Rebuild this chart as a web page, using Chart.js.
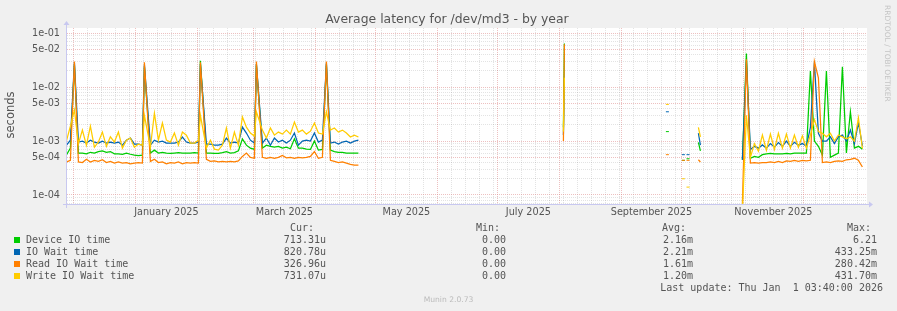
<!DOCTYPE html>
<html lang="en">
<head>
  <meta charset="UTF-8">
  <title>Average latency for /dev/md3 - by year</title>
  <script src="https://cdn.jsdelivr.net/npm/chart.js@4"></script>
  <style>
    body { margin: 0; background: #f0f0f0; }
    .graph { position: relative; width: 897px; height: 311px; overflow: hidden; font-family: 'DejaVu Sans', sans-serif; color: #555; }
    .graph canvas { position: absolute; left: 0; top: 0; }
    .t { position: absolute; white-space: pre; line-height: 1; }
    .title { left: 0; width: 894px; top: 13px; text-align: center; font-size: 12.4px; }
    .ylabel { left: 11px; top: 115px; font-size: 11.5px; transform: translate(-50%, -50%) rotate(-90deg); }
    .mono { font-family: 'DejaVu Sans Mono', monospace; font-size: 10px; color: #555; }
    .sq { position: absolute; width: 6px; height: 6px; }
    .stamp { left: 883px; top: 5px; font-size: 7.5px; color: #c4c4c4; writing-mode: vertical-rl; }
    .munin { left: 0; width: 897px; text-align: center; top: 296px; font-size: 7.6px; color: #bbb; }
  </style>
</head>
<body>
  <div class="graph" id="graph">
    <canvas id="latencyChart" width="897" height="311"></canvas>
    <div class="t title">Average latency for /dev/md3 - by year</div>
    <div class="t ylabel">seconds</div>
    <div class="t stamp">RRDTOOL / TOBI OETIKER</div>
    <div class="t munin">Munin 2.0.73</div>
  </div>
  <script>
    // --- 데이터 (days since 1 Dec 2024, null = no data) ---
    const seriesLabels = ['Device IO time', 'IO Wait time', 'Read IO Wait time', 'Write IO Wait time'];
    const seriesColors = ['#00cc00', '#0066b3', '#ff8000', '#ffcc00'];
    const curValues = ['713.31u', '820.78u', '326.96u', '731.07u'];
    const minValues = ['0.00', '0.00', '0.00', '0.00'];
    const avgValues = ['2.16m', '2.21m', '1.61m', '1.20m'];
    const maxValues = ['6.21', '433.25m', '280.42m', '431.70m'];
    const lastUpdate = 'Last update: Thu Jan  1 03:40:00 2026';

    const monthLabels = ['January 2025', 'March 2025', 'May 2025', 'July 2025', 'September 2025', 'November 2025'];
    const labelMonths = [1, 3, 5, 7, 9, 11]; // months after Dec 2024

    const days = [
      -3.5, -1.5, 0.5, 2.5, 4.5, 6.5, 8.5, 10.5, 12.5, 14.5, 16.5, 18.5, 20.5, 22.5, 24.5, 26.5, 28.5, 30.5, 32.5, 34.5,
      35.5,
      38.5, 40.5, 42.5, 44.5, 46.5, 48.5, 50.5, 52.5, 54.5, 56.5, 58.5, 60.5, 62.5,
      63.5,
      66.5, 68.5, 70.5, 72.5, 74.5, 76.5, 78.5, 80.5, 82.5, 84.5, 86.5, 88.5, 90.5,
      91.5,
      94.5, 96.5, 98.5, 100.5, 102.5, 104.5, 106.5, 108.5, 110.5, 112.5, 114.5, 116.5, 118.5, 120.5, 122.5, 124.5,
      126.5, 128.5, 130.5, 132.5, 134.5, 136.5, 138.5, 140.5, 142.5,
      200, 245, 245.5, 270, 297, 301, 305, 306, 307.3, 310, 312.5, 313.5, 320,
      334.5, 336.5, 338.5, 340.5, 342.5, 344.5, 346.5, 348.5, 350.5, 352.5, 354.5, 356.5, 358.5, 360.5, 362.5, 364.5,
      366.5, 368.5, 370.5, 372.5, 374.5, 376.5, 378.5, 380.5, 382.5, 384.5, 386.5, 388.5, 390.5, 392.5, 394.5
    ];

    const deviceIO = [
      5.5e-4, 7.4e-4, 2.6e-2, 6.0e-4, 6.0e-4, 5.8e-4, 6.2e-4, 6.0e-4, 6.4e-4, 6.6e-4, 6.2e-4, 6.4e-4, 5.8e-4, 5.8e-4, 5.7e-4, 6.0e-4, 5.7e-4, 5.5e-4, 5.4e-4, 5.5e-4,
      2.4e-2,
      6.0e-4, 6.8e-4, 6.0e-4, 6.2e-4, 6.0e-4, 5.9e-4, 6.0e-4, 6.1e-4, 6.0e-4, 6.0e-4, 6.0e-4, 6.1e-4, 6.0e-4,
      3.1e-2,
      6.0e-4, 6.0e-4, 5.9e-4, 5.9e-4, 6.1e-4, 6.4e-4, 6.0e-4, 6.1e-4, 6.6e-4, 1.1e-3, 8.4e-4, 7.4e-4, 7.0e-4,
      2.6e-2,
      7.4e-4, 8.4e-4, 8.0e-4, 7.7e-4, 8.0e-4, 7.4e-4, 7.7e-4, 7.2e-4, 1.1e-3, 7.4e-4, 7.4e-4, 7.1e-4, 7.0e-4, 1.0e-3, 6.8e-4, 7.0e-4,
      2.6e-2, 6.8e-4, 6.4e-4, 6.2e-4, 6.2e-4, 6.0e-4, 6.0e-4, 6.0e-4, 6.0e-4,
      null, 1.8e-3, 6.5e-2, null, 1.5e-3, null, 4.4e-4, null, 4.7e-4, null, 9.5e-4, 6.6e-4, null,
      4.5e-4, 4.2e-2, 4.8e-4, 5.2e-4, 5.0e-4, 5.6e-4, 5.8e-4, 5.9e-4, 5.8e-4, 5.8e-4, 5.8e-4, 5.9e-4, 5.8e-4, 6.0e-4, 6.0e-4, 6.0e-4,
      6.0e-4, 2.0e-2, 1.0e-3, 8.0e-4, 5.5e-4, 2.0e-2, 5.0e-4, 5.5e-4, 6.0e-4, 2.4e-2, 6.0e-4, 3.5e-3, 7.4e-4, 8.0e-4, 7.1e-4
    ];

    const ioWait = [
      8.4e-4, 1.04e-3, 2.9e-2, 9.6e-4, 1.0e-3, 9.2e-4, 1.04e-3, 9.6e-4, 9.2e-4, 1.0e-3, 9.2e-4, 9.6e-4, 9.2e-4, 9.6e-4, 8.4e-4, 1.04e-3, 1.14e-3, 8.8e-4, 8.8e-4, 8.4e-4,
      2.6e-2,
      8.4e-4, 1.04e-3, 9.6e-4, 1.0e-3, 9.2e-4, 9.2e-4, 9.2e-4, 9.6e-4, 1.19e-3, 9.6e-4, 9.2e-4, 9.2e-4, 9.6e-4,
      2.7e-2,
      8.8e-4, 8.8e-4, 8.4e-4, 8.4e-4, 8.8e-4, 1.14e-3, 9.2e-4, 9.6e-4, 9.2e-4, 1.82e-3, 1.41e-3, 1.04e-3, 9.2e-4,
      2.7e-2,
      9.2e-4, 1.14e-3, 8.4e-4, 1.14e-3, 9.6e-4, 1.04e-3, 9.2e-4, 1.04e-3, 1.41e-3, 8.4e-4, 1.0e-3, 1.04e-3, 1.0e-3, 1.41e-3, 9.6e-4, 1.04e-3,
      2.8e-2, 9.2e-4, 9.6e-4, 8.8e-4, 9.6e-4, 1.0e-3, 9.2e-4, 1.0e-3, 1.04e-3,
      null, 1.3e-3, 1.4e-2, null, 3.5e-3, null, 5.6e-4, null, 5.6e-4, null, 1.4e-3, 8.4e-4, null,
      4.5e-4, 3.0e-2, 7.0e-4, 8.0e-4, 7.4e-4, 8.5e-4, 7.4e-4, 9.0e-4, 7.7e-4, 9.4e-4, 8.0e-4, 1.0e-3, 8.0e-4, 9.5e-4, 8.4e-4, 9.0e-4,
      8.0e-4, 1.8e-3, 2.9e-2, 1.4e-3, 1.0e-3, 1.0e-3, 1.2e-3, 9.0e-4, 1.2e-3, 1.3e-3, 1.0e-3, 1.6e-3, 9.0e-4, 2.2e-3, 8.2e-4
    ];

    const readWait = [
      4.1e-4, 4.4e-4, 3.0e-2, 4.1e-4, 4.0e-4, 4.6e-4, 4.1e-4, 4.4e-4, 4.2e-4, 4.5e-4, 4.0e-4, 4.2e-4, 3.9e-4, 4.1e-4, 3.9e-4, 4.0e-4, 3.8e-4, 3.9e-4, 4.0e-4, 3.9e-4,
      2.9e-2,
      4.2e-4, 4.6e-4, 4.0e-4, 4.1e-4, 3.8e-4, 4.0e-4, 3.9e-4, 4.1e-4, 3.8e-4, 4.0e-4, 3.9e-4, 4.0e-4, 3.9e-4,
      2.9e-2,
      4.6e-4, 4.2e-4, 4.3e-4, 4.1e-4, 4.2e-4, 4.1e-4, 4.2e-4, 4.1e-4, 4.3e-4, 5.2e-4, 6.0e-4, 5.0e-4, 4.8e-4,
      3.0e-2,
      5.0e-4, 4.8e-4, 5.0e-4, 4.8e-4, 5.0e-4, 5.4e-4, 4.9e-4, 5.0e-4, 4.8e-4, 5.0e-4, 4.9e-4, 5.0e-4, 5.2e-4, 6.4e-4, 4.8e-4, 5.0e-4,
      3.0e-2, 4.4e-4, 4.2e-4, 4.0e-4, 4.1e-4, 3.9e-4, 3.7e-4, 3.6e-4, 3.6e-4,
      null, 1.0e-3, 6.3e-2, null, 5.6e-4, null, 4.4e-4, null, 4.4e-4, null, 4.5e-4, 4.1e-4, null,
      7.0e-5, 3.3e-2, 3.9e-4, 4.0e-4, 3.9e-4, 4.0e-4, 4.0e-4, 4.1e-4, 4.0e-4, 4.2e-4, 4.0e-4, 4.3e-4, 4.2e-4, 4.4e-4, 4.2e-4, 4.4e-4,
      4.3e-4, 4.4e-4, 3.0e-2, 1.5e-2, 4.0e-4, 4.1e-4, 4.0e-4, 4.2e-4, 4.3e-4, 4.2e-4, 4.5e-4, 4.6e-4, 4.8e-4, 4.4e-4, 3.3e-4
    ];

    const writeWait = [
      1.0e-3, 1.9e-3, 3.8e-3, 9.0e-4, 1.6e-3, 8.4e-4, 1.9e-3, 7.7e-4, 9.6e-4, 1.47e-3, 8.0e-4, 1.2e-3, 9.6e-4, 1.47e-3, 7.4e-4, 1.04e-3, 1.14e-3, 7.7e-4, 8.8e-4, 8.4e-4,
      3.0e-3,
      7.7e-4, 3.3e-3, 1.04e-3, 2.16e-3, 1.04e-3, 9.6e-4, 1.41e-3, 8.4e-4, 1.47e-3, 1.29e-3, 9.2e-4, 9.2e-4, 1.04e-3,
      3.0e-3,
      7.4e-4, 1.04e-3, 7.1e-4, 6.8e-4, 8.4e-4, 1.75e-3, 7.4e-4, 1.47e-3, 8.4e-4, 2.8e-3, 1.82e-3, 1.41e-3, 1.24e-3,
      3.5e-3,
      1.6e-3, 1.14e-3, 1.75e-3, 1.29e-3, 1.47e-3, 1.35e-3, 1.6e-3, 1.35e-3, 2.26e-3, 1.47e-3, 1.6e-3, 1.35e-3, 1.53e-3, 2.16e-3, 1.41e-3, 1.35e-3,
      3.5e-3, 1.6e-3, 1.75e-3, 1.47e-3, 1.6e-3, 1.41e-3, 1.19e-3, 1.29e-3, 1.19e-3,
      null, 1.5e-3, 1.5e-2, null, 4.8e-3, null, 2.0e-4, null, 1.4e-4, null, 1.8e-3, 1.2e-3, null,
      5.0e-5, 3.0e-3, 5.0e-4, 9.0e-4, 6.5e-4, 1.3e-3, 6.8e-4, 1.35e-3, 7.0e-4, 1.4e-3, 7.4e-4, 1.35e-3, 7.4e-4, 1.3e-3, 7.7e-4, 1.25e-3,
      7.4e-4, 1.3e-3, 2.5e-3, 1.5e-3, 1.4e-3, 1.2e-3, 1.4e-3, 1.0e-3, 1.3e-3, 1.2e-3, 1.1e-3, 1.2e-3, 1.0e-3, 2.7e-3, 7.3e-4
    ];

    const seriesValues = [deviceIO, ioWait, readWait, writeWait];

    // --- 축 설정 ---
    const xMin = -3.2, xMax = 396.8;
    const yMin = 6.52e-5, yMax = 0.1256;
    const monthStart = m => (Date.UTC(2024, 11 + m, 1) - Date.UTC(2024, 11, 1)) / 864e5;

    const monthLines = [];
    for (let m = 0; m <= 13; m++) { const d = monthStart(m); if (d < xMax - 1) monthLines.push(d); }
    const weekLines = [];
    for (let d = 0; d < xMax; d += 7) if (!monthLines.includes(d)) weekLines.push(d);
    const labelPos = labelMonths.map(m => (monthStart(m) + monthStart(m + 1)) / 2);

    const gridRed = 'rgba(220, 130, 130, 0.5)';
    const gridGrey = 'rgba(0, 0, 0, 0.11)';

    function logParts(v) {
      const e = Math.floor(Math.log10(v) + 1e-9);
      return { e, n: Math.round(v / Math.pow(10, e)) };
    }

    // isolated samples get a small dash so they stay visible
    function isolatedRadius(ctx) {
      const data = ctx.dataset.data, i = ctx.dataIndex;
      if (!data[i] || data[i].y == null) return 0;
      const prev = data[i - 1], next = data[i + 1];
      return (!prev || prev.y == null) && (!next || next.y == null) ? 1.5 : 0;
    }

    const plotFrame = {
      id: 'plotFrame',
      beforeDraw(chart) {
        const { ctx, chartArea: a } = chart;
        ctx.save();
        ctx.fillStyle = '#ffffff';
        ctx.fillRect(a.left, a.top, a.right - a.left, a.bottom - a.top);
        ctx.restore();
      },
      afterDatasetsDraw(chart) {
        const { ctx, chartArea: a } = chart;
        ctx.save();
        ctx.strokeStyle = '#c8c8f0';
        ctx.fillStyle = '#c8c8f0';
        ctx.lineWidth = 1;
        ctx.beginPath();
        ctx.moveTo(a.left - 0.5, a.bottom + 3);
        ctx.lineTo(a.left - 0.5, a.top - 4);
        ctx.moveTo(a.left - 4, a.bottom - 0.5);
        ctx.lineTo(a.right + 3, a.bottom - 0.5);
        ctx.stroke();
        ctx.beginPath();
        ctx.moveTo(a.left - 3.5, a.top - 3);
        ctx.lineTo(a.left - 0.5, a.top - 7);
        ctx.lineTo(a.left + 2.5, a.top - 3);
        ctx.closePath();
        ctx.fill();
        ctx.beginPath();
        ctx.moveTo(a.right + 2, a.bottom - 3.5);
        ctx.lineTo(a.right + 6, a.bottom - 0.5);
        ctx.lineTo(a.right + 2, a.bottom + 2.5);
        ctx.closePath();
        ctx.fill();
        ctx.restore();
      }
    };

    const xTicks = [...new Set([...monthLines, ...weekLines, ...labelPos])].sort((a, b) => a - b);

    new Chart(document.getElementById('latencyChart'), {
      type: 'line',
      data: {
        datasets: seriesLabels.map((label, i) => ({
          label,
          data: days.map((d, j) => ({ x: d, y: seriesValues[i][j] })),
          borderColor: seriesColors[i],
          backgroundColor: seriesColors[i],
          borderWidth: 1.25,
          pointRadius: isolatedRadius,
          pointStyle: 'line',
          pointBorderWidth: 1,
          pointHoverRadius: 0,
          tension: 0,
          fill: false,
          spanGaps: false,
          order: 4 - i
        }))
      },
      options: {
        responsive: false,
        animation: false,
        layout: { padding: { left: 0, top: 28, right: 30, bottom: 86 } },
        plugins: { legend: { display: false }, tooltip: { enabled: false } },
        scales: {
          x: {
            type: 'linear',
            min: xMin,
            max: xMax,
            afterFit: s => { s.height = 20; },
            afterBuildTicks: s => { s.ticks = xTicks.map(v => ({ value: v })); },
            ticks: {
              autoSkip: false, maxRotation: 0, minRotation: 0, padding: 1.5,
              color: '#555', font: { family: 'DejaVu Sans', size: 9.7 },
              callback: v => { const k = labelPos.indexOf(v); return k >= 0 ? monthLabels[k] : ''; }
            },
            grid: {
              drawTicks: false, lineWidth: 1,
              color: ctx => {
                const v = ctx.tick && ctx.tick.value;
                if (monthLines.includes(v)) return gridRed;
                if (weekLines.includes(v)) return gridGrey;
                return 'rgba(0,0,0,0)';
              }
            },
            border: { display: false, dash: [1, 1] }
          },
          y: {
            type: 'logarithmic',
            min: yMin,
            max: yMax,
            afterFit: s => { s.width = 67; },
            afterBuildTicks: s => {
              const t = [];
              for (let e = -5; e <= -1; e++) for (let n = 1; n <= 9; n++) {
                const v = n * Math.pow(10, e);
                if (v >= yMin && v <= yMax) t.push({ value: v });
              }
              s.ticks = t;
            },
            ticks: {
              autoSkip: false, padding: 7,
              color: '#555', font: { family: 'DejaVu Sans', size: 9.7 },
              callback: v => {
                const p = logParts(v);
                return (p.n === 1 || p.n === 5) ? p.n + 'e-' + String(-p.e).padStart(2, '0') : '';
              }
            },
            grid: {
              drawTicks: false, lineWidth: 1,
              color: ctx => {
                const v = ctx.tick && ctx.tick.value;
                if (!v) return 'rgba(0,0,0,0)';
                const p = logParts(v);
                return (p.n === 1 || p.n === 5) ? gridRed : gridGrey;
              }
            },
            border: { display: false, dash: [1, 1] }
          }
        }
      },
      plugins: [plotFrame]
    });

    // --- 범례 (rrdtool style table) ---
    const graph = document.getElementById('graph');
    function addText(txt, css) {
      const el = document.createElement('div');
      el.className = 't mono';
      el.textContent = txt;
      Object.assign(el.style, css);
      graph.appendChild(el);
      return el;
    }
    const headY = 227.7;
    addText('Cur:', { left: '290px', top: (headY - 5) + 'px' });
    addText('Min:', { left: '476px', top: (headY - 5) + 'px' });
    addText('Avg:', { left: '662px', top: (headY - 5) + 'px' });
    addText('Max:', { left: '847px', top: (headY - 5) + 'px' });
    seriesLabels.forEach((label, i) => {
      const cy = 239.7 + i * 12;
      const sq = document.createElement('div');
      sq.className = 'sq';
      Object.assign(sq.style, { left: '14px', top: (cy - 3) + 'px', background: seriesColors[i] });
      graph.appendChild(sq);
      addText(label, { left: '26px', top: (cy - 5) + 'px' });
      addText(curValues[i], { right: (897 - 326) + 'px', top: (cy - 5) + 'px' });
      addText(minValues[i], { right: (897 - 506) + 'px', top: (cy - 5) + 'px' });
      addText(avgValues[i], { left: '663px', top: (cy - 5) + 'px' });
      addText(maxValues[i], { right: (897 - 877) + 'px', top: (cy - 5) + 'px' });
    });
    addText(lastUpdate, { right: (897 - 883) + 'px', top: (287.7 - 5) + 'px' });
  </script>
</body>
</html>
